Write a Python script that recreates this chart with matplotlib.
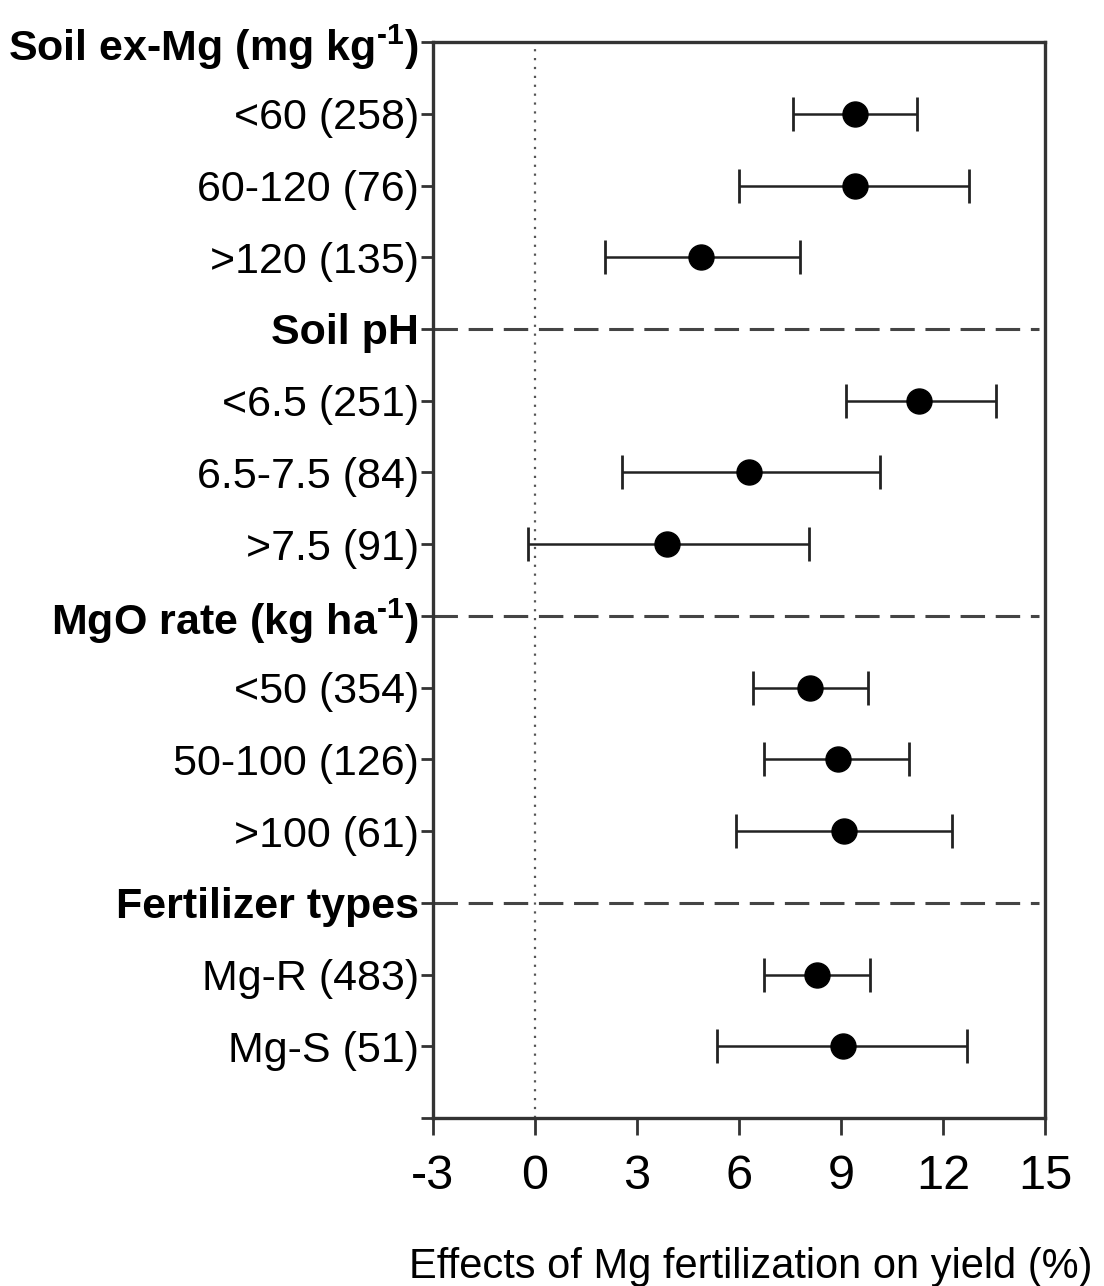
import matplotlib.pyplot as plt
import numpy as np

plt.rcParams['font.family'] = ['Liberation Sans', 'DejaVu Sans']
plt.rcParams['mathtext.fontset'] = 'custom'
plt.rcParams['mathtext.rm'] = 'Liberation Sans:bold'
plt.rcParams['mathtext.bf'] = 'Liberation Sans:bold'

# group headers and their sub-categories
headers = ['Soil ex-Mg (mg kg$^{\\text{-1}}$)', 'Soil pH',
           'MgO rate (kg ha$^{\\text{-1}}$)', 'Fertilizer types']
groups = [['<60 (258)', '60-120 (76)', '>120 (135)'],
          ['<6.5 (251)', '6.5-7.5 (84)', '>7.5 (91)'],
          ['<50 (354)', '50-100 (126)', '>100 (61)'],
          ['Mg-R (483)', 'Mg-S (51)']]

# effect size (%) with 95% CI
means = [9.4, 9.4, 4.9, 11.3, 6.3, 3.9, 8.1, 8.9, 9.1, 8.3, 9.05]
lower = [7.6, 6.0, 2.05, 9.15, 2.55, -0.2, 6.4, 6.75, 5.9, 6.75, 5.35]
upper = [11.25, 12.75, 7.8, 13.55, 10.15, 8.05, 9.8, 11.0, 12.25, 9.85, 12.7]

xticks = [-3, 0, 3, 6, 9, 12, 15]

# build row positions
labels, bold, ypos, header_pos = [], [], [], []
row = 0
for h, g in zip(headers, groups):
    labels.append(h); bold.append(True); header_pos.append(row)
    row += 1
    for s in g:
        labels.append(s); bold.append(False); ypos.append(row)
        row += 1
nrows = row + 1  # one empty row at bottom
labels.append('')
bold.append(False)

means = np.array(means)
lower = np.array(lower)
upper = np.array(upper)

fig = plt.figure(figsize=(11.04, 12.86), dpi=100)
ax = fig.add_axes([0.392, 0.1306, 0.5546, 0.8367])

ax.axvline(0, ls=(0, (1, 3)), lw=1.6, color='#555555', zorder=1)
for hp in header_pos[1:]:
    ax.axhline(hp, xmin=0, xmax=0.99, ls=(0, (8, 3.5)), lw=2.2, color='#444444', zorder=1)

ax.errorbar(means, ypos, xerr=[means - lower, upper - means], fmt='o', ms=18,
            color='black', ecolor='#222222', elinewidth=1.8, capsize=12, capthick=2, zorder=3)

ax.set_xlim(-3, 15)
ax.set_ylim(nrows - 1, 0)
ax.set_xticks(xticks)
ax.set_xticklabels([str(t) for t in xticks], fontsize=35)
ax.set_yticks(range(len(labels)))
ax.set_yticklabels(labels, fontsize=31)
for t, b in zip(ax.get_yticklabels(), bold):
    if b:
        t.set_fontweight('bold')

ax.tick_params(axis='y', direction='out', length=9, width=2, color='#333333', pad=1)
ax.tick_params(axis='x', direction='out', length=12, width=2, color='#333333', pad=14)
for sp in ax.spines.values():
    sp.set_linewidth(2.4)
    sp.set_color('#333333')

ax.set_xlabel('Effects of Mg fertilization on yield (%)', fontsize=30)
ax.xaxis.set_label_coords(0.52, -0.12)

plt.savefig('out.png', dpi=100)
